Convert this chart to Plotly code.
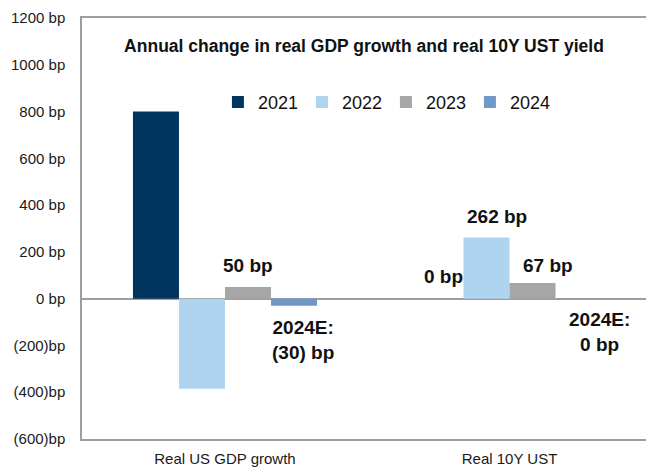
import plotly.graph_objects as go

# Annual change (bp) in real US GDP growth and the real 10Y UST yield
categories = ["Real US GDP growth", "Real 10Y UST"]
years = ["2021", "2022", "2023", "2024"]
gdp_change = [800, -385, 50, -30]
ust_change = [0, 262, 67, 0]
colors = ["#003560", "#AED4F0", "#A6A6A6", "#7099C8"]

y_ticks = [-600, -400, -200, 0, 200, 400, 600, 800, 1000, 1200]


def bp_label(v):
    return f"({abs(v)}) bp" if v < 0 else f"{v} bp"


tick_text = [bp_label(v).replace(" bp", "bp") if v < 0 else bp_label(v) for v in y_ticks]

FONT = "Arial, Liberation Sans, sans-serif"
LINE = "#9E9E9E"
BARGAP = 0.353

fig = go.Figure()
for i, yr in enumerate(years):
    fig.add_trace(go.Bar(
        x=categories,
        y=[gdp_change[i], ust_change[i]],
        name=yr,
        marker=dict(color=colors[i], line=dict(width=0)),
    ))

# Value labels: (category index, year index, text prefix, xshift, yshift)
label_specs = [
    (0, 2, "", 0, 21),
    (0, 3, "2024E:<br>", 9, -34),
    (1, 0, "", 3, 22),
    (1, 1, "", 11, 21),
    (1, 2, "", 15, 18),
    (1, 3, "2024E:<br>", 21, -33),
]
series = [gdp_change, ust_change]
bar_w = (1 - BARGAP) / len(years)
for cat, yi, prefix, dx, dy in label_specs:
    val = series[cat][yi]
    x_pos = cat - (1 - BARGAP) / 2 + bar_w * (yi + 0.5)
    fig.add_annotation(
        x=x_pos, y=val, xref="x", yref="y",
        text=f"<b>{prefix}{bp_label(val)}</b>",
        showarrow=False, xanchor="center", yanchor="middle",
        xshift=dx, yshift=dy, align="center",
        font=dict(family=FONT, size=19, color="#111111"),
    )

fig.update_layout(
    width=646, height=468,
    margin=dict(l=82, r=0, t=18, b=29),
    paper_bgcolor="white", plot_bgcolor="white",
    barmode="group", bargap=BARGAP, bargroupgap=0,
    font=dict(family=FONT, color="#1a1a1a"),
    title=dict(
        text="<b>Annual change in real GDP growth and real 10Y UST yield</b>",
        x=0.5, xref="paper", xanchor="center",
        y=1 - 46 / 468, yref="container", yanchor="middle",
        font=dict(family=FONT, size=17.5, color="#111111"),
    ),
    showlegend=True,
    legend=dict(
        orientation="h", x=0.241, xanchor="left", y=0.80, yanchor="middle",
        font=dict(family=FONT, size=18, color="#111111"),
        bgcolor="rgba(0,0,0,0)", itemwidth=30,
        entrywidth=39, entrywidthmode="pixels",
        traceorder="normal", itemclick=False,
    ),
    xaxis=dict(
        type="category", range=[-0.5026, 1.4798],
        showline=True, linecolor=LINE, linewidth=1.5, mirror=True,
        ticks="", showgrid=False, ticklabelstandoff=5,
        tickfont=dict(family=FONT, size=15, color="#1a1a1a"),
    ),
    yaxis=dict(
        range=[-600, 1200], tickvals=y_ticks, ticktext=tick_text,
        showline=True, linecolor=LINE, linewidth=1.5, mirror=False,
        ticks="", showgrid=False,
        zeroline=True, zerolinecolor=LINE, zerolinewidth=1.5,
        ticklabelstandoff=12,
        tickfont=dict(family=FONT, size=15, color="#1a1a1a"),
    ),
)

fig.write_html("out.html")
